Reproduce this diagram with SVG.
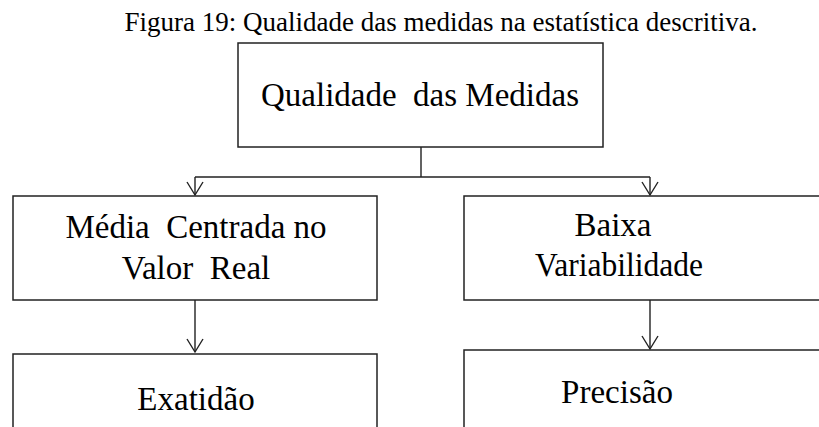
<svg xmlns="http://www.w3.org/2000/svg" width="819" height="427" viewBox="0 0 819 427">
<style>
.box{fill:#fff;stroke:#222;stroke-width:1.5}
.t{font-family:"Liberation Serif","Times New Roman",serif;font-size:33px;fill:#000;text-anchor:middle}
.title{font-family:"Liberation Serif","Times New Roman",serif;font-size:27px;fill:#000;text-anchor:middle}
.c{fill:none;stroke:#222;stroke-width:1.4}
</style>
<defs>
<marker id="arr" markerUnits="userSpaceOnUse" markerWidth="20" markerHeight="20" refX="15" refY="10" orient="auto" viewBox="0 0 20 20">
<path d="M2,2 L15,10 L2,18" fill="none" stroke="#222" stroke-width="1.4"/>
</marker>
</defs>
<rect width="819" height="427" fill="#fff"/>
<text class="title" x="441" y="31">Figura 19: Qualidade das medidas na estatística descritiva.</text>
<g id="connectors">
<path class="c" d="M421,147 V177 M195,177 H650"/>
<path class="c" d="M195,177 V195" marker-end="url(#arr)"/>
<path class="c" d="M650,177 V195" marker-end="url(#arr)"/>
<path class="c" d="M195,300 V352" marker-end="url(#arr)"/>
<path class="c" d="M650,300 V349" marker-end="url(#arr)"/>
</g>
<g id="n-qualidade">
<rect class="box" x="238" y="43" width="365" height="104"/>
<text class="t" x="420" y="106" xml:space="preserve">Qualidade  das Medidas</text>
</g>
<g id="n-media">
<rect class="box" x="13" y="196" width="364" height="104"/>
<text class="t" x="196" y="238" xml:space="preserve">Média  Centrada no</text>
<text class="t" x="196" y="279" xml:space="preserve">Valor  Real</text>
</g>
<g id="n-baixa">
<rect class="box" x="464" y="196" width="366" height="104"/>
<text class="t" x="613" y="236">Baixa</text>
<text class="t" x="619" y="276" textLength="168" lengthAdjust="spacingAndGlyphs">Variabilidade</text>
</g>
<g id="n-exatidao">
<rect class="box" x="13" y="354" width="364" height="100"/>
<text class="t" x="196" y="410">Exatidão</text>
</g>
<g id="n-precisao">
<rect class="box" x="464" y="350" width="366" height="100"/>
<text class="t" x="617" y="403">Precisão</text>
</g>
</svg>
